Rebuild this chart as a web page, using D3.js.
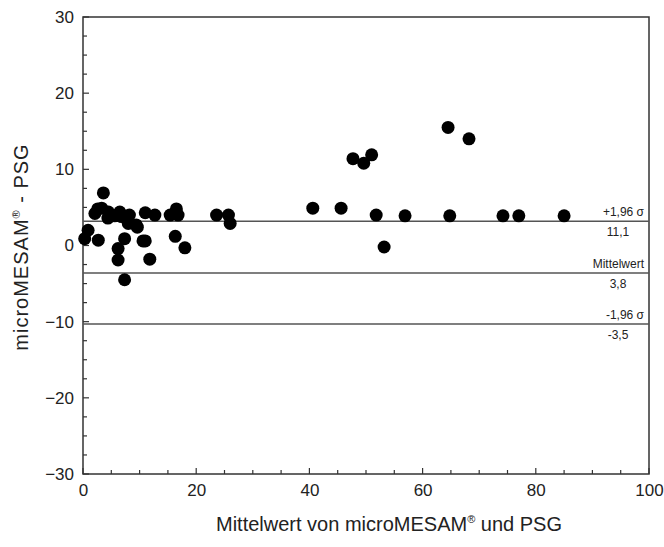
<!DOCTYPE html>
<html>
<head>
<meta charset="utf-8">
<script src="https://cdn.jsdelivr.net/npm/d3@7"></script>
<style>
body{margin:0;background:#fff;}
text{font-family:"Liberation Sans",Arial,sans-serif;fill:#222;}
</style>
</head>
<body>
<div id="chart"></div>
<script>
// Mittelwert (x) und Differenz (y)
let meanVals=[0.3,0.9,2.7,3.6,2.1,2.6,3.3,4.4,4.5,5.6,6.5,6.8,8.2,8.0,9.4,9.6,11.0,12.7,15.4,16.5,16.8,23.6,25.7,26.0,
	7.35,6.2,10.6,11.0,16.3,18.0,6.2,11.8,7.35,
	40.6,45.6,47.7,49.6,51.0,51.8,53.2,56.9,64.5,64.8,68.2,74.2,77.0,85.0];
let diffVals=[0.9,2.0,0.7,6.9,4.2,4.8,4.9,3.6,4.4,3.9,4.4,3.8,4.0,2.9,2.7,2.4,4.3,4.0,4.0,4.8,4.0,4.0,4.0,2.9,
	0.9,-0.4,0.6,0.6,1.2,-0.3,-1.9,-1.8,-4.5,
	4.9,4.9,11.4,10.8,11.9,4.0,-0.2,3.9,15.5,3.9,14.0,3.9,3.9,3.9];

let refLines=[3.2,-3.6,-10.3];
let refTop=["+1,96 σ","Mittelwert","-1,96 σ"];
let refBottom=["11,1","3,8","-3,5"];

let xTicks=[0,20,40,60,80,100];
let yTicks=[-30,-20,-10,0,10,20,30];

let width=664, height=547;
let svg=d3.select("#chart").append("svg").attr("width",width).attr("height",height);

let x=d3.scaleLinear().domain([0,100]).range([83,649]);
let y=d3.scaleLinear().domain([-30,30]).range([474,17]);

// frame
svg.append("rect").attr("x",x(0)).attr("y",y(30)).attr("width",x(100)-x(0)).attr("height",y(-30)-y(30))
	.attr("fill","none").attr("stroke","#333").attr("stroke-width",1.5);

// minor ticks
let g=svg.append("g");
g.selectAll(".xminor").data(d3.range(0,101,5)).join("line")
	.attr("x1",d=>x(d)).attr("x2",d=>x(d)).attr("y1",y(-30)).attr("y2",d=>y(-30)-(d%20==0?6:4))
	.attr("stroke","#333").attr("stroke-width",1.2);
g.selectAll(".yminor").data(d3.range(-30,30.1,2.5)).join("line")
	.attr("y1",d=>y(d)).attr("y2",d=>y(d)).attr("x1",x(0)).attr("x2",d=>x(0)+(d%10==0?6:4))
	.attr("stroke","#333").attr("stroke-width",1.2);

// tick labels via d3 axes (no lines)
let xAxis=svg.append("g").attr("transform","translate(0,"+y(-30)+")")
	.call(d3.axisBottom(x).tickValues(xTicks).tickSize(0).tickPadding(10));
let yAxis=svg.append("g").attr("transform","translate("+x(0)+",0)")
	.call(d3.axisLeft(y).tickValues(yTicks).tickSize(0).tickPadding(9));
svg.selectAll(".domain").remove();
svg.selectAll(".tick text").style("font-size","17px").attr("fill","#333").style("font-family","Liberation Sans, Arial, sans-serif");

// reference lines
svg.selectAll(".ref").data(refLines).join("line")
	.attr("x1",x(0)).attr("x2",x(100)).attr("y1",d=>y(d)).attr("y2",d=>y(d))
	.attr("stroke","#555").attr("stroke-width",1.5);
svg.selectAll(".reftop").data(refLines).join("text")
	.attr("x",x(100)-5).attr("y",d=>y(d)-5).attr("text-anchor","end")
	.style("font-size","12px").text((d,i)=>refTop[i]);
svg.selectAll(".refbot").data(refLines).join("text")
	.attr("x",x(100)-31).attr("y",d=>y(d)+15).attr("text-anchor","middle")
	.style("font-size","12px").text((d,i)=>refBottom[i]);

// points
svg.selectAll("circle").data(meanVals).join("circle")
	.attr("cx",d=>x(d)).attr("cy",(d,i)=>y(diffVals[i])).attr("r",6.5).attr("fill","#000");

// axis titles
let xt=svg.append("text").attr("x",(x(0)+x(100))/2+23).attr("y",531).attr("text-anchor","middle").style("font-size","20px");
xt.append("tspan").text("Mittelwert von microMESAM");
xt.append("tspan").text("®").attr("dy",-8).style("font-size","11px");
xt.append("tspan").text(" und PSG").attr("dy",8);

let yt=svg.append("text").attr("transform","translate(28,247) rotate(-90)").attr("text-anchor","middle")
	.style("font-size","20px").style("letter-spacing","1px");
yt.append("tspan").text("microMESAM");
yt.append("tspan").text("®").attr("dy",-8).style("font-size","11px");
yt.append("tspan").text(" - PSG").attr("dy",8);
</script>
</body>
</html>
